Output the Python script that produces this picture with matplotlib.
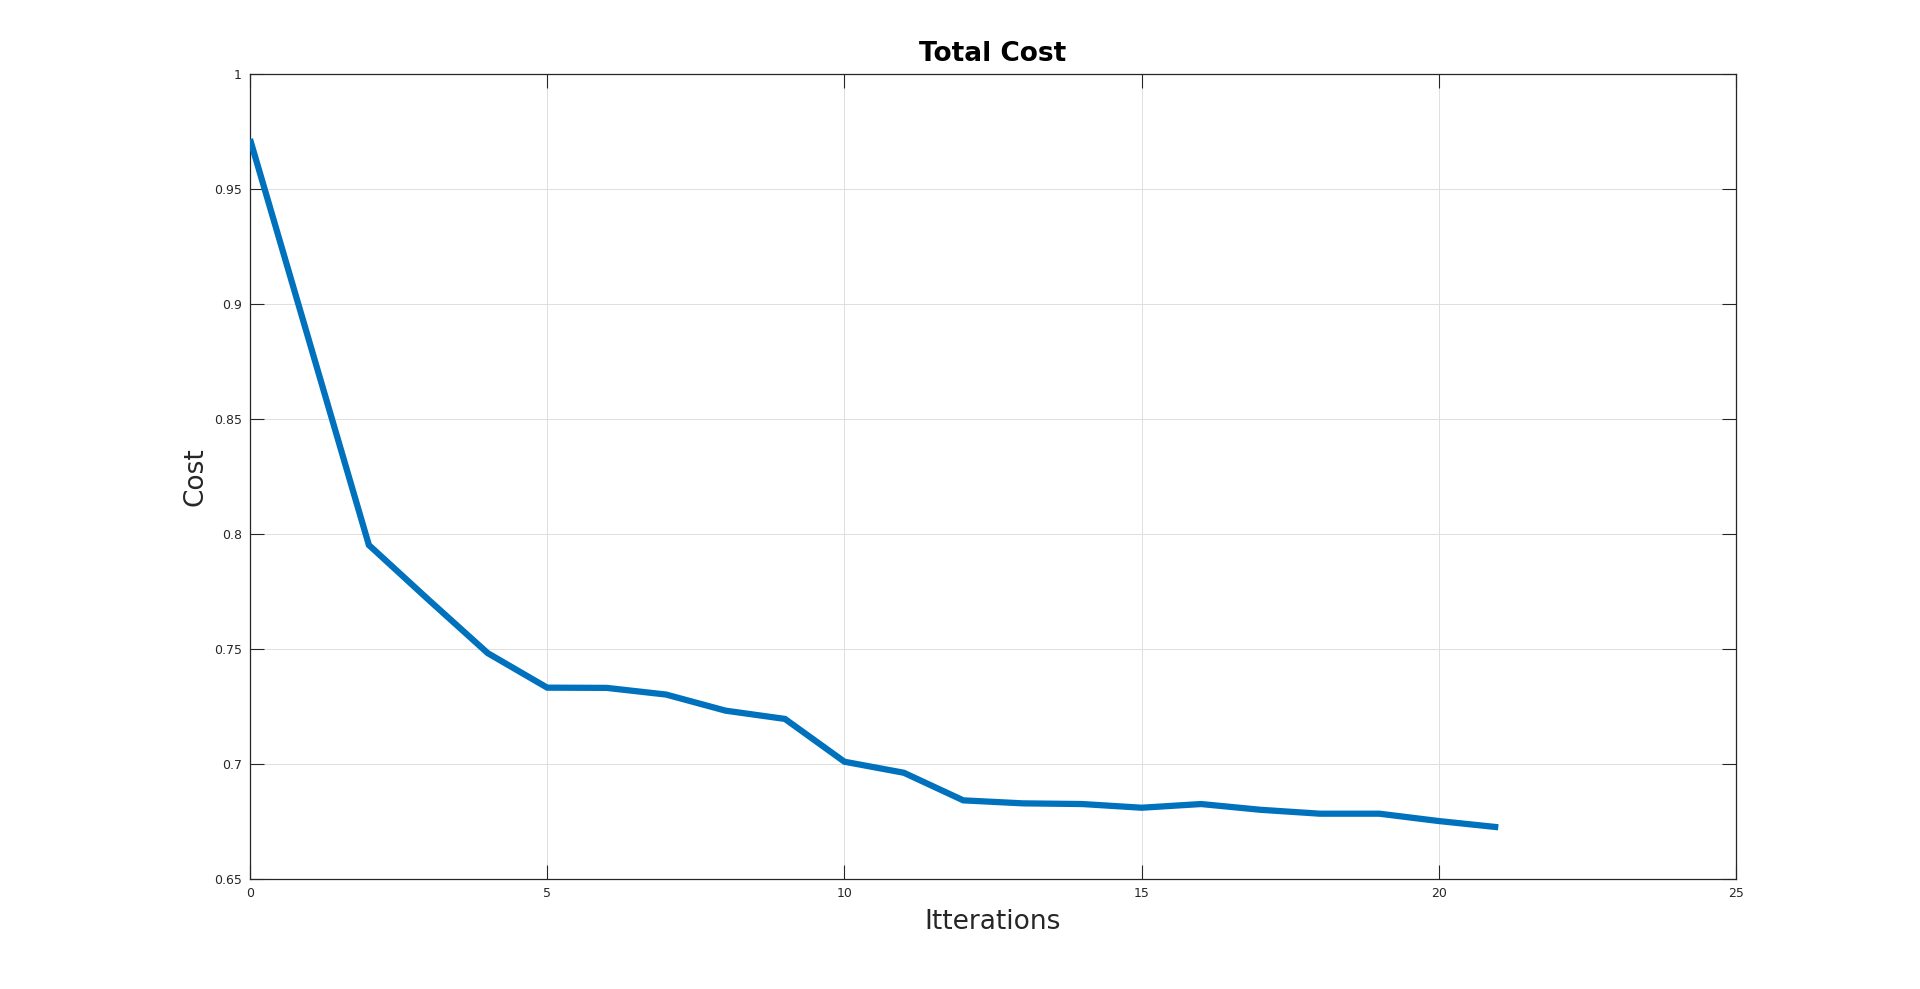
import matplotlib
matplotlib.use("Agg")
import matplotlib.pyplot as plt
from matplotlib.ticker import FuncFormatter

iterations = list(range(22))
cost = [0.9717, 0.8835, 0.7952, 0.7715, 0.7482, 0.7332, 0.7331, 0.7302, 0.7232,
        0.7196, 0.7010, 0.6962, 0.6842, 0.6829, 0.6826, 0.6810, 0.6826, 0.6801,
        0.6784, 0.6784, 0.6752, 0.6725]
x_ticks = [0, 5, 10, 15, 20, 25]
y_ticks = [0.65, 0.7, 0.75, 0.8, 0.85, 0.9, 0.95, 1.0]

plt.rcParams['font.family'] = ['DejaVu Sans']
axc = '#262626'

fig = plt.figure(figsize=(19.2, 9.89), dpi=100)
ax = fig.add_axes([0.1302, 0.1112, 0.7740, 0.8140])

ax.plot(iterations, cost, color='#0072BD', linewidth=4.5, solid_capstyle='butt',
        solid_joinstyle='miter', zorder=3)

ax.set_xlim(0, 25)
ax.set_ylim(0.65, 1.0)
ax.set_xticks(x_ticks)
ax.set_yticks(y_ticks)
ax.yaxis.set_major_formatter(FuncFormatter(lambda v, p: f"{v:g}"))
ax.xaxis.set_major_formatter(FuncFormatter(lambda v, p: f"{v:g}"))

ax.grid(True, color='#dfdfdf', linewidth=0.7, zorder=0)
ax.set_axisbelow(True)

ax.tick_params(direction='in', length=10, width=0.8, colors=axc, labelsize=9,
               top=True, right=True, pad=6)
for s in ax.spines.values():
    s.set_color(axc)
    s.set_linewidth(0.9)

ax.set_title('Total Cost', fontsize=19, fontweight='bold', color='black', pad=9)
ax.set_xlabel('Itterations', fontsize=19, color=axc, labelpad=6)
ax.set_ylabel('Cost', fontsize=19, color=axc, labelpad=4)

fig.savefig('out.png', dpi=100, facecolor='white')
